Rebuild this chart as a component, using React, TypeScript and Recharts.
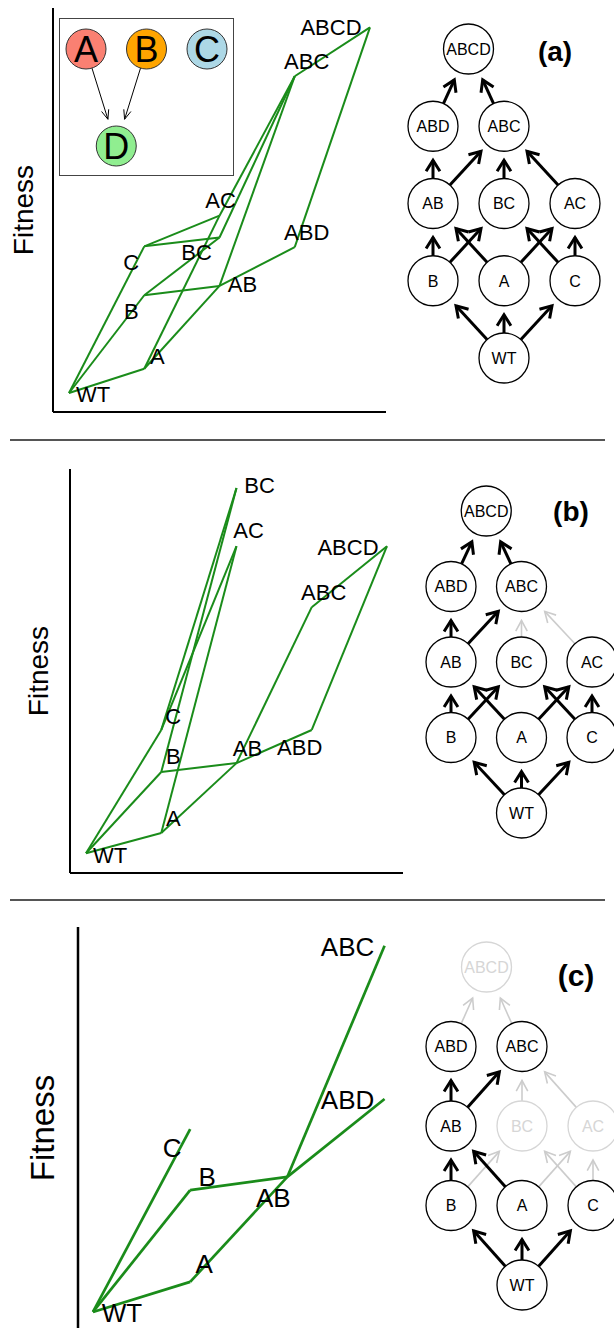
import { ScatterChart, Scatter, XAxis, YAxis, ReferenceLine } from 'recharts';

document.body.style.margin = '0';

const FONT = '"Liberation Sans", Arial, Helvetica, sans-serif';
const GREEN = '#1a8c1a';

// genotypes and their number of mutations (x position on the landscapes)
const genotypes = ['WT', 'A', 'B', 'C', 'AB', 'BC', 'AC', 'ABD', 'ABC', 'ABCD'];
const mutations = [0, 1, 1, 1, 2, 2, 2, 3, 3, 4];

// fitness read off each landscape, in % of the axis height (null = not drawn)
const fitnessA = [4.7, 10.7, 28.9, 41.0, 31.2, 43.2, 48.6, 40.8, 83.1, 95.2];
const fitnessB = [4.9, 9.9, 25.0, 35.4, 27.2, 95.3, 80.9, 35.4, 65.8, 80.9];
const fitnessC = [4.0, 11.5, 34.4, 49.6, 37.7, null, null, 57.1, 95.3, null];

// mutational steps drawn on each landscape
const edgesA = [
  ['WT', 'A'], ['WT', 'B'], ['WT', 'C'], ['A', 'AB'], ['A', 'AC'], ['B', 'AB'], ['B', 'BC'],
  ['C', 'BC'], ['C', 'AC'], ['AB', 'ABC'], ['AB', 'ABD'], ['BC', 'ABC'], ['AC', 'ABC'],
  ['ABC', 'ABCD'], ['ABD', 'ABCD'],
];
const edgesB = [
  ['WT', 'A'], ['WT', 'B'], ['WT', 'C'], ['A', 'AB'], ['A', 'AC'], ['B', 'AB'], ['B', 'BC'],
  ['C', 'BC'], ['C', 'AC'], ['AB', 'ABC'], ['AB', 'ABD'], ['ABC', 'ABCD'], ['ABD', 'ABCD'],
];
const edgesC = [
  ['WT', 'A'], ['WT', 'B'], ['WT', 'C'], ['A', 'AB'], ['B', 'AB'], ['AB', 'ABC'], ['AB', 'ABD'],
];

// label placement (text centre relative to the point, px)
const labelOffsetA: Record<string, number[]> = {
  WT: [24, 1], A: [13, -13], B: [-13, 16], C: [-13, 16], AB: [23, -2], BC: [-23, 15],
  AC: [1, -16], ABD: [12, -15], ABC: [12, -15], ABCD: [-39, 0],
};
const labelOffsetB: Record<string, number[]> = {
  WT: [24, 2], A: [12, -15], B: [12, -16], C: [12, -14], AB: [11, -15], BC: [23, -3],
  AC: [12, -16], ABD: [-12, 17], ABC: [12, -15], ABCD: [-39, 1],
};
const labelOffsetC: Record<string, number[]> = {
  WT: [29, 1], A: [14, -18], B: [17, -13], C: [-18, 19], AB: [-14, 21], ABD: [-37, 1], ABC: [-37, 1],
};

// genotype network: column / row of each node
const netNodes = ['WT', 'B', 'A', 'C', 'AB', 'BC', 'AC', 'ABD', 'ABC', 'ABCD'];
const netCol = [1, 0, 1, 2, 0, 1, 2, 0, 1, 0.5];
const netRow = [0, 1, 1, 1, 2, 2, 2, 3, 3, 4];
const netEdges = [
  ['WT', 'B'], ['WT', 'A'], ['WT', 'C'], ['B', 'AB'], ['B', 'BC'], ['A', 'AB'], ['A', 'AC'],
  ['C', 'BC'], ['C', 'AC'], ['AB', 'ABD'], ['AB', 'ABC'], ['BC', 'ABC'], ['AC', 'ABC'],
  ['ABD', 'ABCD'], ['ABC', 'ABCD'],
];
const fadedEdgesB = ['BC>ABC', 'AC>ABC'];
const fadedEdgesC = ['B>BC', 'A>AC', 'C>BC', 'C>AC', 'BC>ABC', 'AC>ABC', 'ABD>ABCD', 'ABC>ABCD'];
const fadedNodesC = ['ABCD', 'BC', 'AC'];

// inset: gene interaction graph
const insetGenes = ['A', 'B', 'C', 'D'];
const insetCol = [0, 1, 2, 0.5];
const insetRow = [1, 1, 1, 0];
const insetEdges = [['A', 'D'], ['B', 'D']];
const insetColors: Record<string, string> = { A: '#fa8072', B: '#ffa500', C: '#add8e6', D: '#90ee90' };

const noDot = () => <g />;

const arrowLine = (color: string, width: number, head: number, r: number, gap: number, spread: number) =>
  (props: any) => {
    const pts = props.points || [];
    if (pts.length < 2) return <g />;
    const [p, q] = pts;
    const dx = q.x - p.x, dy = q.y - p.y;
    const len = Math.hypot(dx, dy) || 1;
    const ux = dx / len, uy = dy / len;
    const sx = p.x + ux * r, sy = p.y + uy * r;
    const ex = q.x - ux * (r + gap), ey = q.y - uy * (r + gap);
    const c = Math.cos(spread), s = Math.sin(spread);
    const bx = -ux, by = -uy;
    const h1x = ex + head * (bx * c - by * s), h1y = ey + head * (bx * s + by * c);
    const h2x = ex + head * (bx * c + by * s), h2y = ey + head * (-bx * s + by * c);
    return (
      <g>
        <line x1={sx} y1={sy} x2={ex} y2={ey} stroke={color} strokeWidth={width} />
        <polyline points={`${h1x},${h1y} ${ex},${ey} ${h2x},${h2y}`} fill="none" stroke={color} strokeWidth={width} />
      </g>
    );
  };

function Landscape({ fitness, edges, offsets, left, top, width, height, margin, xDomain, fontSize, lineWidth, axisWidth, showX }: any) {
  const pts = genotypes
    .map((g, i) => ({ name: g, x: mutations[i], y: fitness[i] }))
    .filter((p) => p.y != null);
  const byName: Record<string, any> = Object.fromEntries(pts.map((p) => [p.name, p]));
  return (
    <div style={{ position: 'absolute', left, top }}>
      <ScatterChart width={width} height={height} margin={margin}>
        <XAxis type="number" dataKey="x" domain={xDomain} hide />
        <YAxis type="number" dataKey="y" domain={[0, 100]} hide />
        <ReferenceLine x={xDomain[0]} stroke="#000" strokeWidth={axisWidth} ifOverflow="visible" />
        {showX && <ReferenceLine y={0} stroke="#000" strokeWidth={axisWidth} ifOverflow="visible" />}
        {edges.map(([a, b]: string[]) => (
          <Scatter key={a + b} data={[byName[a], byName[b]]} line={{ stroke: GREEN, strokeWidth: lineWidth }}
            shape={noDot} isAnimationActive={false} />
        ))}
        <Scatter data={pts} isAnimationActive={false}
          shape={(p: any) => {
            const off = offsets[p.payload.name] || [0, 0];
            return (
              <text x={p.cx + off[0]} y={p.cy + off[1] + fontSize * 0.36} textAnchor="middle"
                fontSize={fontSize} fontFamily={FONT} fill="#000">{p.payload.name}</text>
            );
          }} />
      </ScatterChart>
    </div>
  );
}

function Network({ left, top, width, height, margin, fadedEdges, fadedNodes }: any) {
  const nodes = netNodes.map((n, i) => ({ name: n, x: netCol[i], y: netRow[i] }));
  const byName: Record<string, any> = Object.fromEntries(nodes.map((p) => [p.name, p]));
  const r = 25;
  return (
    <div style={{ position: 'absolute', left, top }}>
      <ScatterChart width={width} height={height} margin={margin}>
        <XAxis type="number" dataKey="x" domain={[0, 2]} hide />
        <YAxis type="number" dataKey="y" domain={[0, 4]} hide />
        {netEdges.map(([a, b]) => {
          const faded = fadedEdges.includes(`${a}>${b}`);
          return (
            <Scatter key={a + b} data={[byName[a], byName[b]]} shape={noDot} isAnimationActive={false}
              line={faded ? arrowLine('#cccccc', 1.6, 12, r, 9, 0.5) : arrowLine('#000', 3, 13, r, 9, 0.56)} />
          );
        })}
        <Scatter data={nodes} isAnimationActive={false}
          shape={(p: any) => {
            const faded = fadedNodes.includes(p.payload.name);
            const col = faded ? '#d6d6d6' : '#000';
            return (
              <g>
                <circle cx={p.cx} cy={p.cy} r={r} fill="#fff" stroke={col} strokeWidth={1.3} />
                <text x={p.cx} y={p.cy + 16 * 0.36} textAnchor="middle" fontSize={16} fontFamily={FONT} fill={col}>
                  {p.payload.name}
                </text>
              </g>
            );
          }} />
      </ScatterChart>
    </div>
  );
}

function Inset() {
  const nodes = insetGenes.map((n, i) => ({ name: n, x: insetCol[i], y: insetRow[i] }));
  const byName: Record<string, any> = Object.fromEntries(nodes.map((p) => [p.name, p]));
  const r = 20;
  return (
    <div style={{ position: 'absolute', left: 59, top: 18, width: 175, height: 158, border: '1px solid #444', boxSizing: 'border-box' }}>
      <ScatterChart width={173} height={156} margin={{ top: 30, right: 26, bottom: 29, left: 26 }}>
        <XAxis type="number" dataKey="x" domain={[0, 2]} hide />
        <YAxis type="number" dataKey="y" domain={[0, 1]} hide />
        {insetEdges.map(([a, b]) => (
          <Scatter key={a + b} data={[byName[a], byName[b]]} shape={noDot} isAnimationActive={false}
            line={arrowLine('#000', 1, 10, r, 8, 0.38)} />
        ))}
        <Scatter data={nodes} isAnimationActive={false}
          shape={(p: any) => (
            <g>
              <circle cx={p.cx} cy={p.cy} r={r} fill={insetColors[p.payload.name]} stroke="#333" strokeWidth={1} />
              <text x={p.cx} y={p.cy + 36 * 0.36} textAnchor="middle" fontSize={36} fontFamily={FONT} fill="#000">
                {p.payload.name}
              </text>
            </g>
          )} />
      </ScatterChart>
    </div>
  );
}

function FitnessLabel({ x, y, size }: any) {
  return (
    <div style={{ position: 'absolute', left: x, top: y, transform: 'translate(-50%, -50%) rotate(-90deg)',
      fontFamily: FONT, fontSize: size, lineHeight: 1, whiteSpace: 'nowrap' }}>Fitness</div>
  );
}

function PanelTag({ x, y, size, text }: any) {
  return (
    <div style={{ position: 'absolute', left: x, top: y, transform: 'translate(-50%, -50%)',
      fontFamily: FONT, fontSize: size, fontWeight: 'bold', lineHeight: 1 }}>{text}</div>
  );
}

export default function App() {
  return (
    <div style={{ position: 'relative', width: 614, height: 1328, overflow: 'hidden', background: '#fff' }}>
      {/* panel (a) */}
      <Landscape fitness={fitnessA} edges={edgesA} offsets={labelOffsetA} left={0} top={0} width={400} height={430}
        margin={{ top: 8, right: 14, bottom: 18, left: 53 }} xDomain={[-0.213, 4.213]} fontSize={22}
        lineWidth={2} axisWidth={2} showX />
      <Inset />
      <FitnessLabel x={24} y={210} size={28} />
      <Network left={400} top={0} width={214} height={400} margin={{ top: 49, right: 39, bottom: 42, left: 33 }}
        fadedEdges={[]} fadedNodes={[]} />
      <PanelTag x={555} y={52} size={28} text="(a)" />

      <div style={{ position: 'absolute', left: 10, top: 439, width: 595, height: 2, background: '#555' }} />

      {/* panel (b) */}
      <Landscape fitness={fitnessB} edges={edgesB} offsets={labelOffsetB} left={0} top={450} width={410} height={440}
        margin={{ top: 19, right: 7, bottom: 17, left: 70 }} xDomain={[-0.213, 4.213]} fontSize={22}
        lineWidth={2} axisWidth={2} showX />
      <FitnessLabel x={39} y={671} size={28} />
      <Network left={400} top={470} width={214} height={380} margin={{ top: 41, right: 22, bottom: 37, left: 51 }}
        fadedEdges={fadedEdgesB} fadedNodes={[]} />
      <PanelTag x={571} y={512} size={28} text="(b)" />

      <div style={{ position: 'absolute', left: 10, top: 899, width: 595, height: 2, background: '#555' }} />

      {/* panel (c) */}
      <Landscape fitness={fitnessC} edges={edgesC} offsets={labelOffsetC} left={0} top={905} width={410} height={423}
        margin={{ top: 22, right: 6, bottom: 0, left: 78 }} xDomain={[-0.154, 3.2]} fontSize={26}
        lineWidth={2.7} axisWidth={2.5} showX={false} />
      <FitnessLabel x={42} y={1128} size={33} />
      <Network left={400} top={930} width={214} height={398} margin={{ top: 37, right: 21, bottom: 43, left: 51 }}
        fadedEdges={fadedEdgesC} fadedNodes={fadedNodesC} />
      <PanelTag x={576} y={976} size={30} text="(c)" />
    </div>
  );
}
